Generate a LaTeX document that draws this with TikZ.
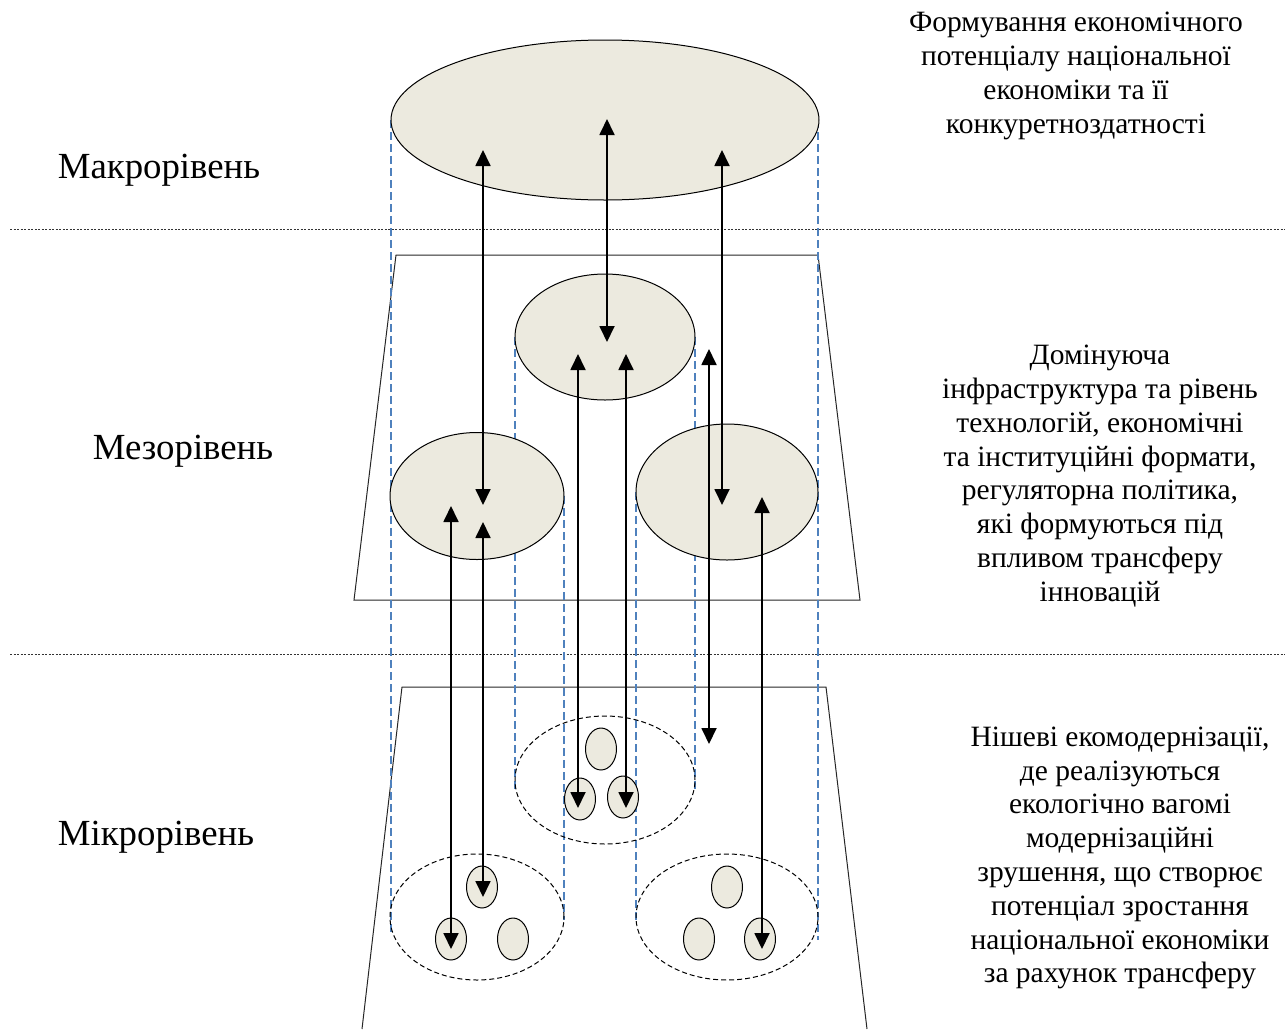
\documentclass[tikz,border=0pt]{standalone}
\usepackage{fontspec}
\setmainfont{Liberation Serif}
\usetikzlibrary{shapes.geometric,arrows.meta}
\definecolor{beige}{HTML}{ECEADF}
\definecolor{dblue}{HTML}{4F81BD}
\begin{document}
\begin{tikzpicture}[x=1pt,y=-1pt,
  level/.style={font=\fontsize{36.8}{42}\selectfont,inner sep=0pt},
  desc/.style={font=\fontsize{29.5}{33.8}\selectfont,align=center,inner sep=0pt},
  sep/.style={draw=black!80,line width=0.9pt,dash pattern=on 2pt off 1.5pt},
  trap/.style={draw=black!85,line width=1pt},
  guide/.style={draw=dblue,line width=1.6pt,dash pattern=on 8pt off 4pt},
  bigell/.style={ellipse,draw=black,line width=1pt,fill=beige,inner sep=0pt},
  group/.style={ellipse,draw=black,line width=1pt,dash pattern=on 5pt off 3pt,inner sep=0pt},
  small/.style={ellipse,draw=black,line width=1pt,fill=beige,inner sep=0pt,minimum width=31pt,minimum height=42pt},
  arr/.style={line width=1.8pt,{Triangle[width=15pt,length=16pt]}-{Triangle[width=15pt,length=16pt]}}
]
\useasboundingbox (0,0) rectangle (1285,1029);

% separators
\coordinate (s1a) at (10,229); \coordinate (s1b) at (1285,229);
\coordinate (s2a) at (10,654); \coordinate (s2b) at (1285,654);
\draw[sep] (s1a) -- (s1b);
\draw[sep] (s2a) -- (s2b);

% trapezoids
\coordinate (t1) at (396,255); \coordinate (t2) at (818,255);
\coordinate (t3) at (860,600); \coordinate (t4) at (354,600);
\draw[trap] (t4) -- (t1) -- (t2) -- (t3) -- cycle;
\coordinate (u1) at (402,687); \coordinate (u2) at (826,687);
\coordinate (u3) at (867,1029); \coordinate (u4) at (362,1029);
\draw[trap] (u4) -- (u1) -- (u2) -- (u3);

% guide lines
\coordinate (g1a) at (391,120); \coordinate (g1b) at (391,935);
\coordinate (g2a) at (818,120); \coordinate (g2b) at (818,940);
\coordinate (g3a) at (515,337); \coordinate (g3b) at (515,790);
\coordinate (g4a) at (695,337); \coordinate (g4b) at (695,790);
\coordinate (g5a) at (564,496); \coordinate (g5b) at (564,920);
\coordinate (g6a) at (636,492); \coordinate (g6b) at (636,920);
\foreach \g in {1,...,6} {\draw[guide] (g\g a) -- (g\g b);}

% macro ellipse
\node[bigell,minimum width=428pt,minimum height=160pt] (macro) at (605,120) {};
% meso ellipses
\node[bigell,minimum width=180pt,minimum height=126pt] (mtop) at (605,337) {};
\node[bigell,minimum width=174pt,minimum height=127pt] (mleft) at (477,496) {};
\node[bigell,minimum width=182pt,minimum height=136pt] (mright) at (727,492) {};
% micro groups
\node[group,minimum width=180pt,minimum height=128pt] (gtop) at (605,780) {};
\node[group,minimum width=174pt,minimum height=126pt] (gleft) at (477,917) {};
\node[group,minimum width=182pt,minimum height=126pt] (gright) at (727,917) {};
% small ellipses
\node[small] (st1) at (601,749) {};
\node[small] (st2) at (580,799) {};
\node[small] (st3) at (623,797) {};
\node[small] (sl1) at (482,887) {};
\node[small] (sl2) at (451,939) {};
\node[small] (sl3) at (513,939) {};
\node[small] (sr1) at (727,887) {};
\node[small] (sr2) at (699,939) {};
\node[small] (sr3) at (760,939) {};

% arrows
\coordinate (a1t) at (483,150); \coordinate (a1b) at (483,505);
\coordinate (a2t) at (607,119); \coordinate (a2b) at (607,342);
\coordinate (a3t) at (722,150); \coordinate (a3b) at (722,505);
\coordinate (a4t) at (709,349); \coordinate (a4b) at (709,744);
\coordinate (a5t) at (451,506); \coordinate (a5b) at (451,949);
\coordinate (a6t) at (483,522); \coordinate (a6b) at (483,897);
\coordinate (a7t) at (578,354); \coordinate (a7b) at (578,808);
\coordinate (a8t) at (626,354); \coordinate (a8b) at (626,808);
\coordinate (a9t) at (762,497); \coordinate (a9b) at (762,949);
\foreach \a in {1,...,9} {\draw[arr] (a\a t) -- (a\a b);}

% level labels
\node[level] (lmacro) at (159,170) {Макрорівень};
\node[level] (lmeso) at (183,451) {Мезорівень};
\node[level] (lmicro) at (156,837) {Мікрорівень};

% descriptions
\node[desc] (dmacro) at (1076,76) {Формування економічного\\потенціалу національної\\економіки та її\\конкуретноздатності};
\node[desc] (dmeso) at (1100,476) {Домінуюча\\інфраструктура та рівень\\технологій, економічні\\та інституційні формати,\\регуляторна політика,\\які формуються під\\впливом трансферу\\інновацій};
\node[desc] (dmicro) at (1120,858) {Нішеві екомодернізації,\\де реалізуються\\екологічно вагомі\\модернізаційні\\зрушення, що створює\\потенціал зростання\\національної економіки\\за рахунок трансферу};
\end{tikzpicture}
\end{document}
